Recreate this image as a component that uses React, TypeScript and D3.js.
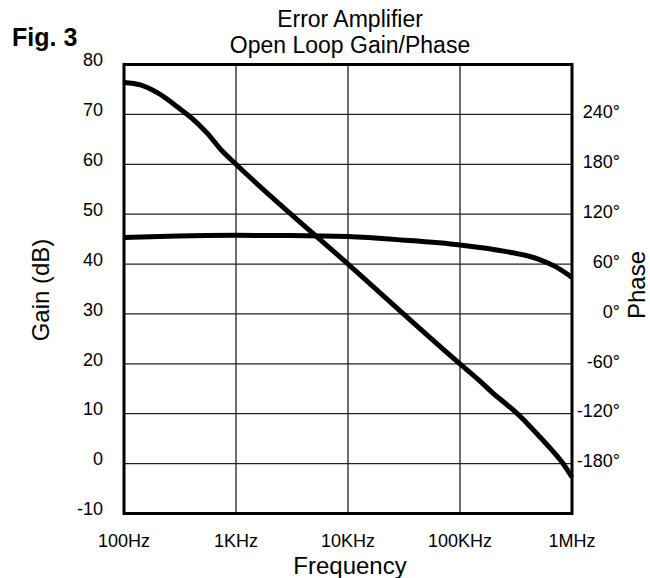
import React from "react";
import * as d3 from "d3";

// frequency axis
const freqTicks = [100, 1000, 10000, 100000, 1000000];
const freqLabels = ["100Hz", "1KHz", "10KHz", "100KHz", "1MHz"];

// left axis (gain) and right axis (phase)
const gainTicks = [80, 70, 60, 50, 40, 30, 20, 10, 0, -10];
const phaseTicks = [240, 180, 120, 60, 0, -60, -120, -180];

// open loop gain
const gainFreq = [100, 140, 200, 300, 400, 550, 750, 1000, 10000, 100000, 150000, 200000, 250000, 300000, 400000, 500000, 650000, 800000, 1000000];
const gainDb = [76.4, 75.9, 74.3, 71.5, 69.3, 66.3, 62.7, 60, 40, 20, 16.6, 14.0, 12.2, 10.7, 8.0, 5.7, 2.9, 0.5, -2.7];

// phase
const phaseFreq = [100, 300, 1000, 3000, 10000, 30000, 100000, 260000, 500000, 700000, 1000000];
const phaseDeg = [92, 93.8, 94.5, 94.3, 93, 89, 83, 75, 66, 57.5, 44];

const W = 650;
const H = 578;
const FONT = "'Liberation Sans', Arial, Helvetica, sans-serif";

export default function App() {
  const x = d3.scaleLog().domain([100, 1e6]).range([124, 572]);
  const y = d3.scaleLinear().domain([-10, 80]).range([513.5, 64.5]);
  const yPhase = d3.scaleLinear().domain([-240, 300]).range([513.5, 64.5]);

  const gainLine = d3
    .line<number>()
    .x((d, i) => x(gainFreq[i]))
    .y((d) => y(d))
    .curve(d3.curveMonotoneX);

  const phaseLine = d3
    .line<number>()
    .x((d, i) => x(phaseFreq[i]))
    .y((d) => yPhase(d))
    .curve(d3.curveMonotoneX);

  const [x0, x1] = x.range();
  const [y0, y1] = y.range();
  const cx = (x0 + x1) / 2 + 2;

  return (
    <svg
      width={W}
      height={H}
      style={{ position: "absolute", left: 0, top: 0, background: "#fff" }}
      fontFamily={FONT}
    >
      {/* grid */}
      <g stroke="#222" strokeWidth={1.3}>
        {gainTicks.slice(1, -1).map((t) => (
          <line key={"h" + t} x1={x0} x2={x1} y1={y(t)} y2={y(t)} />
        ))}
        {freqTicks.slice(1, -1).map((f) => (
          <line key={"v" + f} x1={x(f)} x2={x(f)} y1={y1} y2={y0} />
        ))}
      </g>

      {/* curves */}
      <path d={gainLine(gainDb) || ""} fill="none" stroke="#000" strokeWidth={5} />
      <path d={phaseLine(phaseDeg) || ""} fill="none" stroke="#000" strokeWidth={5} />

      {/* frame */}
      <rect x={x0} y={y1} width={x1 - x0} height={y0 - y1} fill="none" stroke="#000" strokeWidth={3} />

      {/* gain ticks */}
      <g fontSize={18} textAnchor="end" fill="#000">
        {gainTicks.map((t) => (
          <text key={t} x={103} y={y(t) - 3} dominantBaseline="middle">
            {t}
          </text>
        ))}
      </g>

      {/* phase ticks */}
      <g fontSize={18} textAnchor="end" fill="#000">
        {phaseTicks.map((t) => (
          <text key={t} x={620} y={yPhase(t) - 1} dominantBaseline="middle">
            {t + "°"}
          </text>
        ))}
      </g>

      {/* frequency ticks */}
      <g fontSize={18} textAnchor="middle" fill="#000">
        {freqTicks.map((f, i) => (
          <text key={f} x={x(f)} y={547}>
            {freqLabels[i]}
          </text>
        ))}
      </g>

      {/* titles */}
      <text x={12} y={46} fontSize={25} fontWeight="bold">
        Fig. 3
      </text>
      <g fontSize={23} textAnchor="middle">
        <text x={cx} y={27}>Error Amplifier</text>
        <text x={cx} y={53}>Open Loop Gain/Phase</text>
      </g>
      <g fontSize={24} textAnchor="middle">
        <text x={cx} y={574}>Frequency</text>
        <text transform={`translate(49,${(y0 + y1) / 2 + 1}) rotate(-90)`}>Gain (dB)</text>
        <text transform={`translate(645,${(y0 + y1) / 2 - 4}) rotate(-90)`}>Phase</text>
      </g>
    </svg>
  );
}
